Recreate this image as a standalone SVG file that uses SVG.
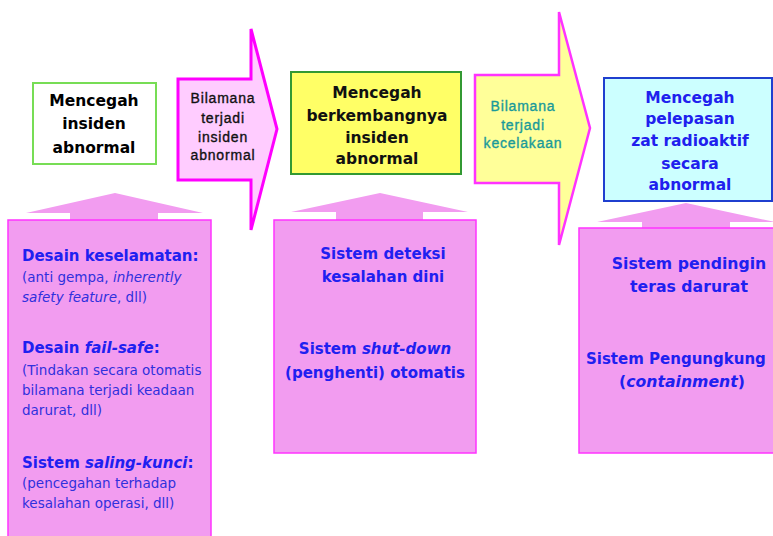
<svg xmlns="http://www.w3.org/2000/svg" width="773" height="536" viewBox="0 0 773 536">
<style>
.t{font-family:"DejaVu Sans","Verdana",sans-serif;font-weight:bold;font-size:15.5px;text-anchor:middle}
.a{font-family:"Liberation Sans","Arial",sans-serif;font-size:14px;letter-spacing:0.8px;text-anchor:middle;stroke-width:0.35px}
.h{font-family:"DejaVu Sans","Verdana",sans-serif;font-weight:bold;font-size:15px;fill:#2020f0}
.h3{font-size:15.7px}
.s{font-family:"DejaVu Sans","Verdana",sans-serif;font-size:13.5px;fill:#3030dd}
.c{text-anchor:middle}
.panel{fill:#f29cf0;stroke:#ff33ff;stroke-width:1.5}
.up{fill:#f29cf0}
</style>
<rect width="773" height="536" fill="#ffffff"/>

<g id="goal1">
<rect x="33" y="83" width="123" height="81" fill="#ffffff" stroke="#77dd55" stroke-width="2"/>
<text class="t" x="94" y="105.5">Mencegah</text>
<text class="t" x="94" y="129">insiden</text>
<text class="t" x="94" y="152.5">abnormal</text>
</g>

<g id="arrow1">
<path d="M178,79 H251 V29 L277,129 L251,230 V180 H178 Z" fill="#ffccff" stroke="#ff00ff" stroke-width="3" stroke-linejoin="miter"/>
<text class="a" x="223" y="103" fill="#111111" stroke="#111111">Bilamana</text>
<text class="a" x="223" y="122.5" fill="#111111" stroke="#111111">terjadi</text>
<text class="a" x="223" y="141.5" fill="#111111" stroke="#111111">insiden</text>
<text class="a" x="223" y="160" fill="#111111" stroke="#111111">abnormal</text>
</g>

<g id="goal2">
<rect x="291" y="72" width="170" height="102" fill="#ffff66" stroke="#339933" stroke-width="2"/>
<text class="t" x="377" y="97.5" fill="#111111">Mencegah</text>
<text class="t" x="377" y="120.5" fill="#111111">berkembangnya</text>
<text class="t" x="377" y="142.5" fill="#111111">insiden</text>
<text class="t" x="377" y="163.5" fill="#111111">abnormal</text>
</g>

<g id="arrow2">
<path d="M475,75 H559 V12 L590,128 L559,245 V183 H475 Z" fill="#ffff99" stroke="#ff33ff" stroke-width="2.5"/>
<text class="a" x="523" y="111" fill="#1a9a9a" stroke="#1a9a9a">Bilamana</text>
<text class="a" x="523" y="130" fill="#1a9a9a" stroke="#1a9a9a">terjadi</text>
<text class="a" x="523" y="148" fill="#1a9a9a" stroke="#1a9a9a">kecelakaan</text>
</g>

<g id="goal3">
<rect x="604" y="78" width="168" height="123" fill="#ccffff" stroke="#1f3fcf" stroke-width="2"/>
<text class="t" x="690" y="102.5" fill="#2020ee">Mencegah</text>
<text class="t" x="690" y="123.5" fill="#2020ee">pelepasan</text>
<text class="t" x="690" y="145.5" fill="#2020ee">zat radioaktif</text>
<text class="t" x="690" y="168.5" fill="#2020ee">secara</text>
<text class="t" x="690" y="189.5" fill="#2020ee">abnormal</text>
</g>

<g id="panel1">
<path class="up" d="M115,193 L203,213 H158 V221 H70 V213 H26 Z"/>
<rect class="panel" x="8" y="220" width="203" height="330"/>
<text class="h" x="22" y="260.5">Desain keselamatan:</text>
<text class="s" x="22" y="281.5">(anti gempa, <tspan font-style="italic">inherently</tspan></text>
<text class="s" x="22" y="301.5"><tspan font-style="italic">safety feature</tspan>, dll)</text>
<text class="h" x="22" y="352.5">Desain <tspan font-style="italic">fail-safe</tspan>:</text>
<text class="s" x="22" y="374.5">(Tindakan secara otomatis</text>
<text class="s" x="22" y="394.5">bilamana terjadi keadaan</text>
<text class="s" x="22" y="414.5">darurat, dll)</text>
<text class="h" x="22" y="467.5">Sistem <tspan font-style="italic">saling-kunci</tspan>:</text>
<text class="s" x="22" y="487.5">(pencegahan terhadap</text>
<text class="s" x="22" y="507.5">kesalahan operasi, dll)</text>
</g>

<g id="panel2">
<path class="up" d="M380,193 L468,212 H423 V221 H336 V212 H291 Z"/>
<rect class="panel" x="274" y="220" width="202" height="233"/>
<text class="h c" x="383" y="258.5">Sistem deteksi</text>
<text class="h c" x="383" y="281.5">kesalahan dini</text>
<text class="h c" x="375" y="353.5">Sistem <tspan font-style="italic">shut-down</tspan></text>
<text class="h c" x="375" y="377.5">(penghenti) otomatis</text>
</g>

<g id="panel3">
<path class="up" d="M686,203 L775,222 H730 V229 H642 V222 H597 Z"/>
<rect class="panel" x="579" y="228" width="200" height="225"/>
<text class="h h3 c" x="689" y="268.5">Sistem pendingin</text>
<text class="h h3 c" x="689" y="291.5">teras darurat</text>
<text class="h" x="586" y="363.5">Sistem Pengungkung</text>
<text class="h h3 c" x="682" y="386.5">(<tspan font-style="italic">containment</tspan>)</text>
</g>

<g id="connectors"></g>
</svg>
